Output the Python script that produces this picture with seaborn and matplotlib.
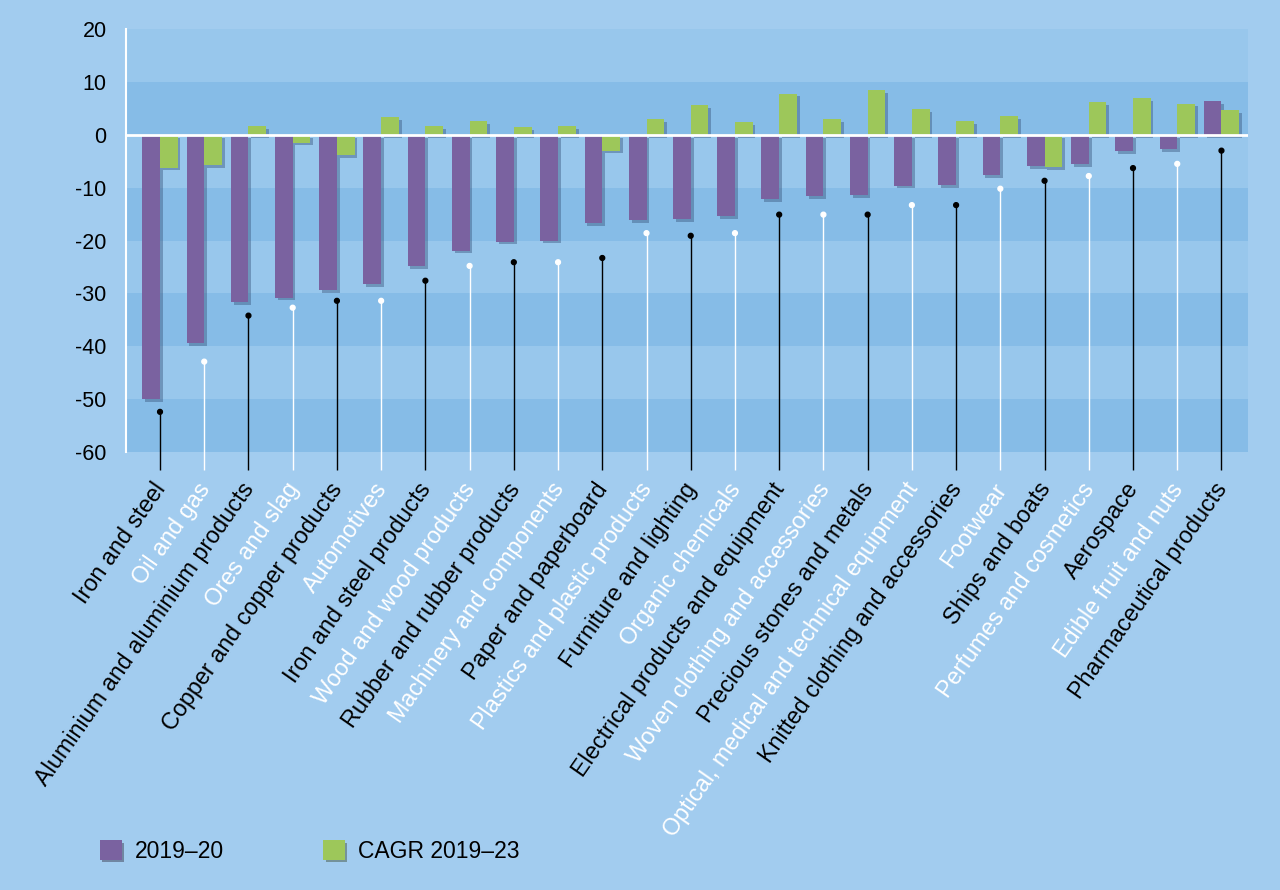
import pandas as pd
import numpy as np
import matplotlib
matplotlib.use('Agg')
import matplotlib.pyplot as plt
import matplotlib.patheffects as pe
import seaborn as sns

# 카테고리 / 값
categories = [
    'Iron and steel', 'Oil and gas', 'Aluminium and aluminium products', 'Ores and slag',
    'Copper and copper products', 'Automotives', 'Iron and steel products',
    'Wood and wood products', 'Rubber and rubber products', 'Machinery and components',
    'Paper and paperboard', 'Plastics and plastic products', 'Furniture and lighting',
    'Organic chemicals', 'Electrical products and equipment', 'Woven clothing and accessories',
    'Precious stones and metals', 'Optical, medical and technical equipment',
    'Knitted clothing and accessories', 'Footwear', 'Ships and boats',
    'Perfumes and cosmetics', 'Aerospace', 'Edible fruit and nuts', 'Pharmaceutical products',
]
growth_2019_20 = [-50.0, -39.4, -31.7, -30.8, -29.4, -28.3, -24.8, -21.9, -20.2, -20.0,
                  -16.7, -16.2, -16.0, -15.4, -12.1, -11.6, -11.4, -9.6, -9.5, -7.7,
                  -5.9, -5.6, -3.1, -2.7, 6.3]
cagr_2019_23 = [-6.2, -5.7, 1.6, -1.5, -3.9, 3.4, 1.7, 2.6, 1.4, 1.6,
                -3.0, 3.0, 5.6, 2.4, 7.8, 3.0, 8.4, 4.9, 2.6, 3.6,
                -6.1, 6.2, 6.9, 5.9, 4.7]
# 라벨 지시선 점 위치
leader_y = [-52.4, -42.9, -34.2, -32.7, -31.4, -31.4, -27.6, -24.8, -24.1, -24.1,
            -23.3, -18.6, -19.1, -18.6, -15.1, -15.1, -15.1, -13.3, -13.3, -10.2,
            -8.7, -7.8, -6.3, -5.5, -3.0]
series_names = ['2019\u201320', 'CAGR 2019\u201323']
yticks = [20, 10, 0, -10, -20, -30, -40, -50, -60]

df = pd.DataFrame({
    'category': categories * 2,
    'value': growth_2019_20 + cagr_2019_23,
    'series': [series_names[0]] * len(categories) + [series_names[1]] * len(categories),
})

bg = '#A2CCEF'
purple = '#7A62A0'
green = '#9DC75A'

fig = plt.figure(figsize=(12.8, 8.9), dpi=100, facecolor=bg)
ax = fig.add_axes([0.0984, 0.4921, 0.8766, 0.4753])
ax.set_facecolor(bg)

# 배경 줄무늬
for k, lo in enumerate(range(-60, 20, 10)):
    ax.axhspan(lo, lo + 10, color='#86BCE7' if k % 2 == 0 else '#98C7EC', lw=0, zorder=0)

sns.barplot(data=df, x='category', y='value', hue='series',
            palette=[purple, green], width=0.8, gap=0, saturation=1,
            ax=ax, legend=False, zorder=3)
shadow = [pe.SimplePatchShadow(offset=(2, -2), shadow_rgbFace='#3c5a80', alpha=0.45), pe.Normal()]
for cont in ax.containers:
    for p in cont:
        p.set_path_effects(shadow)
        p.set_linewidth(0)

ax.axhline(0, color='white', lw=2, zorder=4)

x = np.arange(len(categories))
line_cols = ['black' if i % 2 == 0 else 'white' for i in x]
ax.vlines(x, leader_y, -63.4, colors=line_cols, lw=1, clip_on=False, zorder=5)
ax.scatter(x, leader_y, c=line_cols, s=12, clip_on=False, zorder=6)

ax.set_xlim(-0.77, len(categories) - 0.4)
ax.set_ylim(-60, 20)
ax.set_yticks(yticks)
ax.set_yticklabels([str(t) for t in yticks])
ax.tick_params(axis='y', length=0, pad=14, labelsize=15.5)
ax.set_xticks([])
ax.set_xlabel('')
ax.set_ylabel('')
for s in ['top', 'right', 'bottom']:
    ax.spines[s].set_visible(False)
ax.spines['left'].set_color('white')
ax.spines['left'].set_linewidth(1.5)

for i, name in enumerate(categories):
    ax.text(i + 0.03, -0.078, name, transform=ax.get_xaxis_transform(),
            rotation=55, ha='right', va='center', rotation_mode='anchor',
            fontsize=16.8, color=line_cols[i], family='Liberation Sans')

for t in ax.get_yticklabels():
    t.set_family('Liberation Sans')

handles = [plt.Rectangle((0, 0), 1, 1, fc=purple, ec='none',
                         path_effects=[pe.SimplePatchShadow(offset=(1.5, -1.5), alpha=0.4), pe.Normal()]),
           plt.Rectangle((0, 0), 1, 1, fc=green, ec='none',
                         path_effects=[pe.SimplePatchShadow(offset=(1.5, -1.5), alpha=0.4), pe.Normal()])]
fig.legend(handles, series_names, loc='center left', bbox_to_anchor=(0.078, 0.043),
           ncol=2, frameon=False, handlelength=0.95, handleheight=0.95,
           columnspacing=4.35, handletextpad=0.57, borderpad=0, borderaxespad=0,
           prop={'family': 'Liberation Sans', 'size': 16.5})

fig.savefig('out.png', dpi=100, facecolor=bg)
